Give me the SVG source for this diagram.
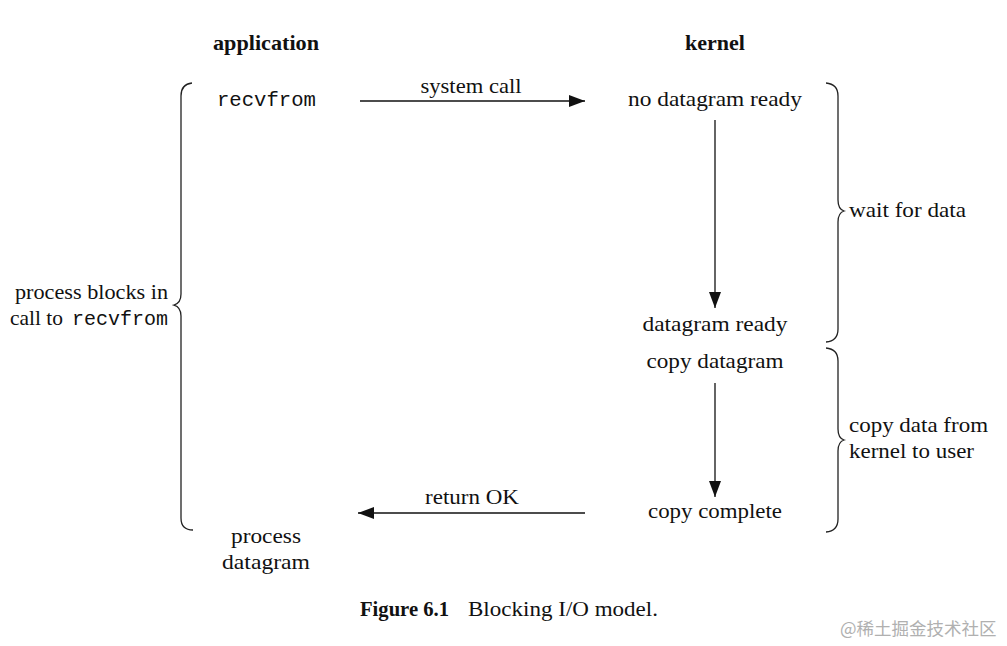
<svg xmlns="http://www.w3.org/2000/svg" width="1007" height="646" viewBox="0 0 1007 646">
<style>
text{font-family:"Liberation Serif","Times New Roman",serif;font-size:21px;fill:#111}
.b{font-weight:bold}
.m{font-family:"Liberation Mono","Courier New",monospace;font-size:20.5px}
.c{text-anchor:middle}
.r{text-anchor:end}
.ln{stroke:#111;stroke-width:1.3;fill:none}
.br{stroke:#222;stroke-width:1.3;fill:none}
.wm{font-family:"Noto Sans CJK SC","Liberation Sans",sans-serif;font-size:17.5px;fill:#b0b0b0}
</style>
<defs>
<marker id="ah" markerWidth="16" markerHeight="12" refX="16" refY="6" orient="auto" markerUnits="userSpaceOnUse">
<path d="M0,0 L16,6 L0,12 Z" fill="#111"/>
</marker>
</defs>
<rect width="1007" height="646" fill="#fff"/>
<g id="headers">
<text class="b c" x="266" y="50" textLength="106" lengthAdjust="spacingAndGlyphs">application</text>
<text class="b c" x="715" y="50" textLength="60" lengthAdjust="spacingAndGlyphs">kernel</text>
</g>
<g id="app-recvfrom"><text class="m" x="217" y="106" textLength="99" lengthAdjust="spacingAndGlyphs">recvfrom</text></g>
<g id="k-nodata"><text class="c" x="715" y="106" textLength="174" lengthAdjust="spacingAndGlyphs">no datagram ready</text></g>
<g id="k-ready"><text class="c" x="715" y="331" textLength="145" lengthAdjust="spacingAndGlyphs">datagram ready</text></g>
<g id="k-copy"><text class="c" x="715" y="368" textLength="137" lengthAdjust="spacingAndGlyphs">copy datagram</text></g>
<g id="k-complete"><text class="c" x="715" y="518" textLength="134" lengthAdjust="spacingAndGlyphs">copy complete</text></g>
<g id="app-process"><text class="c" x="266" y="543" textLength="70" lengthAdjust="spacingAndGlyphs">process</text><text class="c" x="266" y="569" textLength="88" lengthAdjust="spacingAndGlyphs">datagram</text></g>
<g id="brace-left">
<path class="br" d="M192,83 Q181,84 181,96 L181,294 Q181,303 174,305 Q181,307 181,316 L181,518 Q181,530 193,530"/>
<text x="15" y="299" textLength="153" lengthAdjust="spacingAndGlyphs">process blocks in</text>
<text x="10" y="325" textLength="53" lengthAdjust="spacingAndGlyphs">call to</text>
<text class="m" x="72" y="325" textLength="96" lengthAdjust="spacingAndGlyphs">recvfrom</text>
</g>
<g id="brace-wait">
<path class="br" d="M826,83 Q838,84 838,96 L838,200 Q838,209 844,211 Q838,213 838,222 L838,329 Q838,341 826,342"/>
<text x="849" y="217" textLength="117" lengthAdjust="spacingAndGlyphs">wait for data</text>
</g>
<g id="brace-copy">
<path class="br" d="M826,348 Q838,349 838,361 L838,429 Q838,438 844,440 Q838,442 838,451 L838,519 Q838,531 826,532"/>
<text x="849" y="432" textLength="139" lengthAdjust="spacingAndGlyphs">copy data from</text>
<text x="849" y="458" textLength="125" lengthAdjust="spacingAndGlyphs">kernel to user</text>
</g>
<g id="connectors">
<line class="ln" x1="360" y1="101" x2="585" y2="101" marker-end="url(#ah)"/>
<text class="c" x="471" y="93" textLength="101" lengthAdjust="spacingAndGlyphs">system call</text>
<line class="ln" x1="715" y1="120" x2="715" y2="308" marker-end="url(#ah)"/>
<line class="ln" x1="715" y1="383" x2="715" y2="497" marker-end="url(#ah)"/>
<line class="ln" x1="585" y1="513" x2="358" y2="513" marker-end="url(#ah)"/>
<text class="c" x="472" y="504" textLength="94" lengthAdjust="spacingAndGlyphs">return OK</text>
</g>
<g id="caption">
<text class="b" x="360" y="616" textLength="89" lengthAdjust="spacingAndGlyphs">Figure 6.1</text>
<text x="468" y="616" textLength="190" lengthAdjust="spacingAndGlyphs">Blocking I/O model.</text>
</g>
<text class="wm" x="840" y="635">@稀土掘金技术社区</text>
</svg>
